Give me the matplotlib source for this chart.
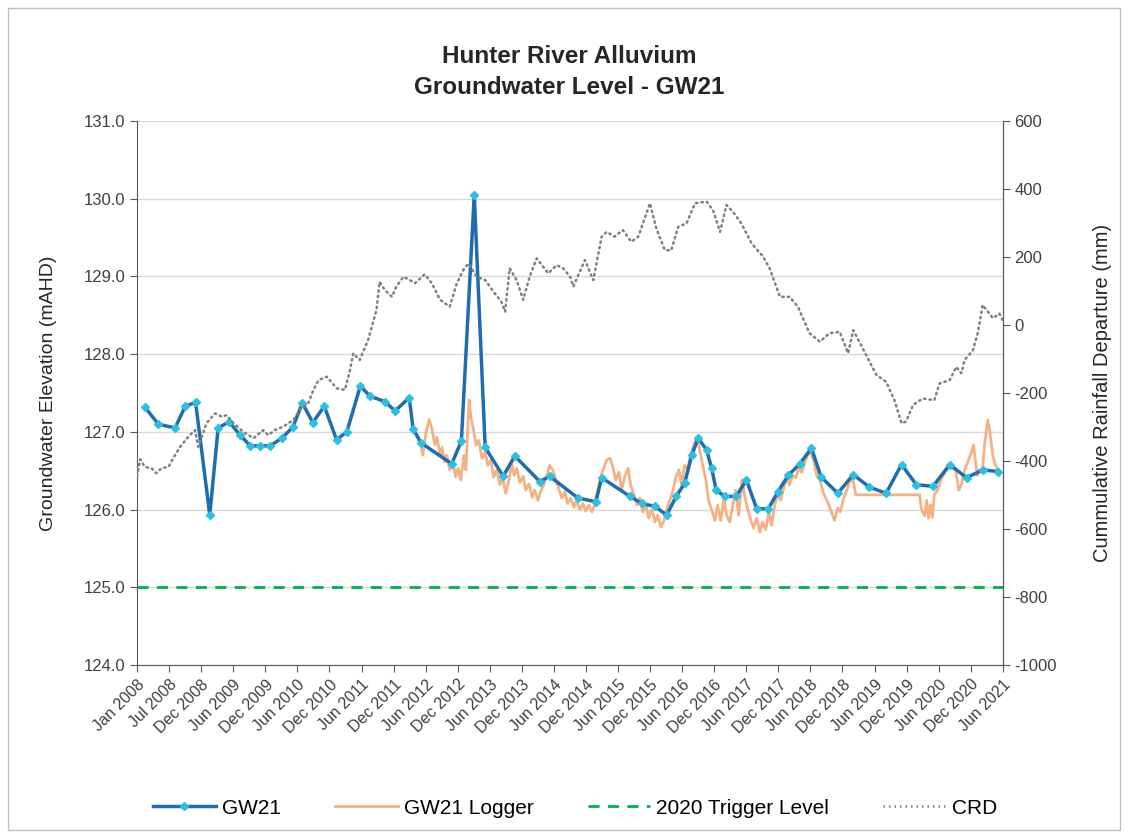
import datetime as dt
import matplotlib
matplotlib.use("Agg")
import matplotlib.pyplot as plt
import matplotlib.dates as mdates
from matplotlib.lines import Line2D
from matplotlib.patches import Rectangle

# GW21 manual readings (decimal year, mAHD)
gw21_year = [2008.12, 2008.33, 2008.59, 2008.75, 2008.91, 2009.13, 2009.26, 2009.43, 2009.60, 2009.76,
             2009.91, 2010.07, 2010.25, 2010.42, 2010.57, 2010.73, 2010.91, 2011.10, 2011.26, 2011.47,
             2011.62, 2011.85, 2012.01, 2012.23, 2012.29, 2012.41, 2012.89, 2013.04, 2013.24, 2013.41,
             2013.69, 2013.87, 2014.26, 2014.41, 2014.85, 2015.13, 2015.22, 2015.66, 2015.84, 2016.05,
             2016.23, 2016.38, 2016.51, 2016.62, 2016.72, 2016.85, 2016.93, 2017.00, 2017.13, 2017.31,
             2017.47, 2017.63, 2017.81, 2017.96, 2018.12, 2018.30, 2018.48, 2018.63, 2018.89, 2019.13,
             2019.38, 2019.64, 2019.88, 2020.11, 2020.37, 2020.63, 2020.89, 2021.14, 2021.38]
gw21_level = [127.32, 127.10, 127.05, 127.33, 127.38, 125.93, 127.05, 127.13, 126.96, 126.82,
              126.82, 126.82, 126.92, 127.06, 127.37, 127.12, 127.33, 126.90, 127.00, 127.59,
              127.46, 127.39, 127.27, 127.44, 127.04, 126.86, 126.59, 126.88, 130.05, 126.80,
              126.43, 126.69, 126.36, 126.43, 126.15, 126.10, 126.41, 126.17, 126.08, 126.04,
              125.93, 126.17, 126.34, 126.70, 126.92, 126.77, 126.53, 126.25, 126.17, 126.17,
              126.38, 126.01, 126.01, 126.23, 126.44, 126.59, 126.79, 126.42, 126.21, 126.45,
              126.29, 126.21, 126.58, 126.32, 126.30, 126.58, 126.41, 126.51, 126.49]

# GW21 data logger (decimal year, mAHD)
logger_year = [2012.40, 2012.44, 2012.49, 2012.54, 2012.58, 2012.63, 2012.66, 2012.71, 2012.74, 2012.78,
               2012.81, 2012.86, 2012.91, 2012.95, 2012.99, 2013.03, 2013.08, 2013.11, 2013.16, 2013.19,
               2013.23, 2013.27, 2013.31, 2013.36, 2013.41, 2013.45, 2013.50, 2013.54, 2013.59, 2013.64,
               2013.68, 2013.73, 2013.78, 2013.82, 2013.86, 2013.90, 2013.95, 2014.00, 2014.04, 2014.09,
               2014.14, 2014.18, 2014.23, 2014.27, 2014.32, 2014.37, 2014.41, 2014.46, 2014.51, 2014.55,
               2014.60, 2014.65, 2014.69, 2014.74, 2014.79, 2014.83, 2014.88, 2014.93, 2014.97, 2015.02,
               2015.07, 2015.11, 2015.16, 2015.21, 2015.25, 2015.30, 2015.35, 2015.39, 2015.44, 2015.49,
               2015.53, 2015.58, 2015.63, 2015.67, 2015.72, 2015.77, 2015.81, 2015.86, 2015.91, 2015.95,
               2016.00, 2016.05, 2016.09, 2016.14, 2016.19, 2016.23, 2016.28, 2016.33, 2016.37, 2016.42,
               2016.46, 2016.51, 2016.56, 2016.60, 2016.65, 2016.70, 2016.74, 2016.79, 2016.84, 2016.88,
               2016.93, 2016.98, 2017.02, 2017.07, 2017.12, 2017.16, 2017.21, 2017.26, 2017.30, 2017.35,
               2017.40, 2017.44, 2017.49, 2017.54, 2017.58, 2017.63, 2017.68, 2017.72, 2017.77, 2017.82,
               2017.86, 2017.91, 2017.95, 2018.00, 2018.05, 2018.10, 2018.14, 2018.19, 2018.24, 2018.28,
               2018.33, 2018.38, 2018.42, 2018.47, 2018.52, 2018.56, 2018.61, 2018.66, 2018.70, 2018.75,
               2018.79, 2018.84, 2018.89, 2018.93, 2018.98, 2019.03, 2019.07, 2019.12, 2019.17, 2020.16,
               2020.19, 2020.24, 2020.27, 2020.30, 2020.33, 2020.36, 2020.39, 2020.44, 2020.49, 2020.53,
               2020.58, 2020.63, 2020.67, 2020.72, 2020.77, 2020.81, 2020.86, 2020.91, 2020.95, 2021.00,
               2021.03, 2021.06, 2021.09, 2021.14, 2021.17, 2021.22, 2021.25, 2021.30, 2021.34, 2021.39,
               2021.42]
logger_level = [126.89, 126.70, 126.99, 127.16, 127.05, 126.83, 126.93, 126.70, 126.80, 126.61,
                126.70, 126.51, 126.61, 126.42, 126.53, 126.38, 126.70, 126.51, 127.41, 127.18,
                127.02, 126.83, 126.89, 126.66, 126.74, 126.57, 126.64, 126.42, 126.51, 126.32,
                126.41, 126.21, 126.38, 126.61, 126.44, 126.53, 126.35, 126.43, 126.25, 126.33,
                126.16, 126.25, 126.12, 126.23, 126.32, 126.44, 126.57, 126.51, 126.38, 126.28,
                126.15, 126.23, 126.08, 126.15, 126.03, 126.12, 126.00, 126.08, 125.98, 126.06,
                125.97, 126.06, 126.25, 126.44, 126.53, 126.64, 126.66, 126.56, 126.38, 126.48,
                126.25, 126.43, 126.53, 126.32, 126.19, 126.06, 126.15, 125.97, 126.06, 125.89,
                126.00, 125.84, 125.93, 125.78, 125.86, 126.00, 126.12, 126.25, 126.41, 126.51,
                126.32, 126.57, 126.51, 126.70, 126.83, 126.93, 126.79, 126.57, 126.38, 126.12,
                126.00, 125.86, 126.06, 125.86, 126.15, 125.93, 125.84, 126.06, 126.25, 125.93,
                126.38, 126.19, 126.00, 125.86, 125.76, 125.89, 125.71, 125.84, 125.74, 125.97,
                125.80, 126.06, 126.19, 126.12, 126.28, 126.41, 126.32, 126.44, 126.41, 126.53,
                126.48, 126.61, 126.70, 126.74, 126.61, 126.44, 126.38, 126.23, 126.15, 126.06,
                125.97, 125.86, 126.02, 125.97, 126.15, 126.25, 126.35, 126.41, 126.19, 126.19,
                126.00, 125.92, 126.12, 125.89, 126.06, 125.90, 126.19, 126.25, 126.38, 126.44,
                126.51, 126.57, 126.53, 126.51, 126.25, 126.32, 126.51, 126.61, 126.70, 126.83,
                126.61, 126.44, 126.51, 126.53, 126.83, 127.15, 127.02, 126.69, 126.57, 126.51,
                126.48]

# Cumulative rainfall departure (decimal year, mm)
crd_year = [2008.00, 2008.05, 2008.12, 2008.23, 2008.30, 2008.38, 2008.49, 2008.56, 2008.67, 2008.80,
            2008.90, 2008.95, 2009.08, 2009.21, 2009.32, 2009.39, 2009.50, 2009.65, 2009.81, 2009.96,
            2010.04, 2010.14, 2010.27, 2010.43, 2010.53, 2010.66, 2010.74, 2010.82, 2010.95, 2011.10,
            2011.23, 2011.31, 2011.36, 2011.46, 2011.59, 2011.72, 2011.77, 2011.85, 2011.96, 2012.03,
            2012.14, 2012.24, 2012.32, 2012.47, 2012.58, 2012.71, 2012.86, 2012.97, 2013.07, 2013.15,
            2013.28, 2013.41, 2013.56, 2013.66, 2013.72, 2013.79, 2013.90, 2014.00, 2014.10, 2014.21,
            2014.39, 2014.52, 2014.62, 2014.73, 2014.78, 2014.96, 2015.09, 2015.22, 2015.30, 2015.42,
            2015.55, 2015.68, 2015.79, 2015.97, 2016.07, 2016.20, 2016.30, 2016.41, 2016.54, 2016.67,
            2016.85, 2016.95, 2017.06, 2017.16, 2017.26, 2017.39, 2017.55, 2017.73, 2017.83, 2017.99,
            2018.14, 2018.27, 2018.45, 2018.61, 2018.76, 2018.92, 2019.05, 2019.13, 2019.33, 2019.49,
            2019.64, 2019.77, 2019.88, 2019.95, 2020.06, 2020.21, 2020.39, 2020.47, 2020.63, 2020.73,
            2020.81, 2020.86, 2020.99, 2021.07, 2021.14, 2021.30, 2021.40, 2021.45]
crd_mm = [-444, -395, -417, -422, -436, -421, -417, -392, -358, -328,
          -309, -358, -289, -260, -270, -265, -289, -314, -333, -309,
          -324, -309, -299, -279, -250, -230, -191, -162, -152, -186,
          -191, -132, -83, -103, -44, 44, 127, 103, 83, 113,
          142, 132, 123, 149, 123, 74, 54, 123, 162, 181,
          142, 132, 93, 69, 39, 167, 132, 74, 142, 196,
          152, 176, 167, 142, 113, 191, 132, 260, 274, 260,
          279, 245, 260, 358, 284, 221, 219, 289, 299, 358,
          363, 338, 274, 353, 333, 299, 240, 201, 167, 83,
          83, 54, -24, -49, -24, -20, -83, -15, -88, -147,
          -167, -221, -289, -284, -235, -216, -221, -172, -162, -123,
          -142, -103, -74, -20, 59, 20, 34, 15]

trigger_level = 125.0
tick_labels_start = dt.datetime(2008, 1, 1)

base = mdates.date2num(tick_labels_start)


def to_num(years):
    return [base + (y - 2008) * 365.25 for y in years]


plt.rcParams["font.family"] = ["Liberation Sans", "DejaVu Sans"]
plt.rcParams["axes.unicode_minus"] = False
fig = plt.figure(figsize=(11.28, 8.34), dpi=100)
ax = fig.add_axes([0.1215, 0.2026, 0.7675, 0.6523])
ax2 = ax.twinx()

ax.plot(to_num(logger_year), logger_level, color="#F4B183", lw=2.0, zorder=3)
ax.plot(to_num(gw21_year), gw21_level, color="#1F6DB0", lw=2.5, marker="D", ms=4,
        mfc="#2BBFE0", mec="#2BBFE0", zorder=4)
ax.axhline(trigger_level, color="#00B050", lw=2, ls=(0, (4, 3)), zorder=2)
ax2.plot(to_num(crd_year), crd_mm, color="#808080", lw=1.8, ls=(0, (0.6, 1.6)),
         dash_capstyle="round")

ax.set_ylim(124, 131)
ax.set_yticks([124, 125, 126, 127, 128, 129, 130, 131])
ax.set_yticklabels([f"{v:.1f}" for v in [124, 125, 126, 127, 128, 129, 130, 131]])
ax2.set_ylim(-1000, 600)
ax2.set_yticks(range(-1000, 601, 200))

ticks = [base + 182 * k for k in range(28)]
ax.set_xlim(ticks[0], ticks[-1])
ax.set_xticks(ticks)
ax.xaxis.set_major_formatter(mdates.DateFormatter("%b %Y"))
plt.setp(ax.get_xticklabels(), rotation=45, ha="right", rotation_mode="anchor")

ax.grid(axis="y", color="#D9D9D9", lw=1)
ax.set_axisbelow(True)
for a in (ax, ax2):
    a.spines["top"].set_visible(False)
    for s in ("left", "right", "bottom"):
        a.spines[s].set_color("#595959")
    a.tick_params(colors="#404040", labelsize=12, direction="out", length=5, color="#595959")
ax.tick_params(axis="x", labelsize=11.5)
ax2.spines["left"].set_visible(False)
ax2.spines["bottom"].set_visible(False)

ax.set_ylabel("Groundwater Elevation (mAHD)", fontsize=14, color="#262626", labelpad=19)
ax2.set_ylabel("Cummulative Rainfall Departure (mm)", fontsize=14.5, color="#262626", labelpad=26)

fig.text(0.505, 0.9137, "Hunter River Alluvium\nGroundwater Level - GW21", ha="center", va="center",
         fontsize=17.5, fontweight="bold", color="#262626", linespacing=1.45)

handles = [
    Line2D([], [], color="#1F6DB0", lw=2.5, marker="D", ms=4, mfc="#2BBFE0", mec="#2BBFE0"),
    Line2D([], [], color="#F4B183", lw=2.0),
    Line2D([], [], color="#00B050", lw=2, ls=(0, (4, 3))),
    Line2D([], [], color="#808080", lw=1.8, ls=(0, (0.6, 1.6))),
]
fig.legend(handles, ["GW21", "GW21 Logger", "2020 Trigger Level", "CRD"], loc="center",
           bbox_to_anchor=(0.51, 0.031), ncol=4, frameon=False, fontsize=15,
           handlelength=3.0, handletextpad=0.3, columnspacing=2.6)

fig.patches.append(Rectangle((0.007, 0.005), 0.986, 0.985, transform=fig.transFigure,
                             fill=False, edgecolor="#BFBFBF", lw=1))

fig.savefig("out.png", dpi=100)
